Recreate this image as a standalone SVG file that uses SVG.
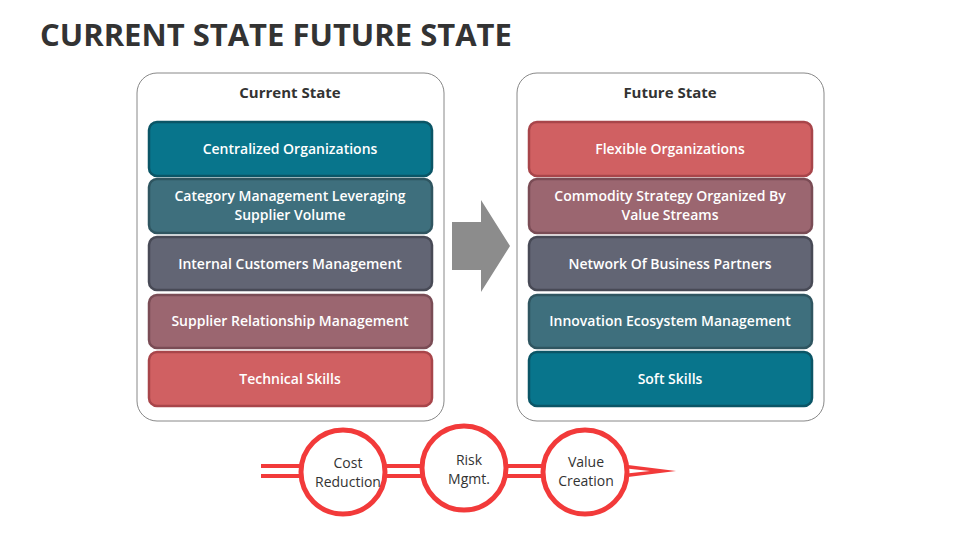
<svg xmlns="http://www.w3.org/2000/svg" width="960" height="540" viewBox="0 0 960 540">
<style>
.t{font-family:"Open Sans","Liberation Sans",sans-serif;}
.h{font-size:15px;font-weight:bold;fill:#333;text-anchor:middle}
.b{font-size:14px;font-weight:600;fill:#fff;text-anchor:middle}
.c{font-size:14px;fill:#333;text-anchor:middle}
.panel{fill:#fff;stroke:#888;stroke-width:1}
.ring{fill:#fff;stroke:#f23a3a;stroke-width:5}
.ln{stroke:#f23a3a;stroke-width:4}
</style>
<text x="40" y="46" class="t" style="font-size:31px;font-weight:bold;fill:#333">CURRENT STATE FUTURE STATE</text>
<g id="current">
<rect class="panel" x="137" y="73" width="307" height="348" rx="20"/>
<text class="t h" x="290" y="98">Current State</text>
<rect x="149" y="122" width="283" height="54" rx="8" fill="#08758c" stroke="#0a5566" stroke-width="2.5"/>
<text class="t b" x="290" y="154">Centralized Organizations</text>
<rect x="149" y="179" width="283" height="54" rx="8" fill="#3e6f7d" stroke="#2f5560" stroke-width="2.5"/>
<text class="t b" x="290" y="201">Category Management Leveraging</text>
<text class="t b" x="290" y="220">Supplier Volume</text>
<rect x="149" y="237" width="283" height="53" rx="8" fill="#626574" stroke="#484a56" stroke-width="2.5"/>
<text class="t b" x="290" y="269">Internal Customers Management</text>
<rect x="149" y="295" width="283" height="53" rx="8" fill="#9b6670" stroke="#7a4c55" stroke-width="2.5"/>
<text class="t b" x="290" y="326">Supplier Relationship Management</text>
<rect x="149" y="352" width="283" height="54" rx="8" fill="#d06062" stroke="#a8454a" stroke-width="2.5"/>
<text class="t b" x="290" y="384">Technical Skills</text>
</g>
<g id="future">
<rect class="panel" x="517" y="73" width="307" height="348" rx="20"/>
<text class="t h" x="670" y="98">Future State</text>
<rect x="529" y="122" width="283" height="54" rx="8" fill="#d06062" stroke="#a8454a" stroke-width="2.5"/>
<text class="t b" x="670" y="154">Flexible Organizations</text>
<rect x="529" y="179" width="283" height="54" rx="8" fill="#9b6670" stroke="#7a4c55" stroke-width="2.5"/>
<text class="t b" x="670" y="201">Commodity Strategy Organized By</text>
<text class="t b" x="670" y="220">Value Streams</text>
<rect x="529" y="237" width="283" height="53" rx="8" fill="#626574" stroke="#484a56" stroke-width="2.5"/>
<text class="t b" x="670" y="269">Network Of Business Partners</text>
<rect x="529" y="295" width="283" height="53" rx="8" fill="#3e6f7d" stroke="#2f5560" stroke-width="2.5"/>
<text class="t b" x="670" y="326">Innovation Ecosystem Management</text>
<rect x="529" y="352" width="283" height="54" rx="8" fill="#08758c" stroke="#0a5566" stroke-width="2.5"/>
<text class="t b" x="670" y="384">Soft Skills</text>
</g>
<g id="connectors">
<polygon points="452,222 481,222 481,200 510,246 481,292 481,270 452,270" fill="#8c8c8c"/>
<line class="ln" x1="261" y1="466" x2="305" y2="466"/>
<line class="ln" x1="261" y1="476" x2="305" y2="476"/>
<line class="ln" x1="380" y1="466" x2="425" y2="466"/>
<line class="ln" x1="380" y1="476" x2="425" y2="476"/>
<line class="ln" x1="500" y1="466" x2="545" y2="466"/>
<line class="ln" x1="500" y1="476" x2="545" y2="476"/>
<polygon points="620,464 676,471 620,478" fill="#f23a3a"/>
<polygon points="622,468 650,471 622,474" fill="#fff"/>
</g>
<g id="cost"><circle class="ring" cx="343" cy="472" r="42"/>
<text class="t c" x="348" y="468">Cost</text><text class="t c" x="348" y="487">Reduction</text></g>
<g id="risk"><circle class="ring" cx="464" cy="468" r="42"/>
<text class="t c" x="469" y="465">Risk</text><text class="t c" x="469" y="484">Mgmt.</text></g>
<g id="value"><circle class="ring" cx="585" cy="472" r="42"/>
<text class="t c" x="586" y="467">Value</text><text class="t c" x="586" y="486">Creation</text></g>
</svg>
